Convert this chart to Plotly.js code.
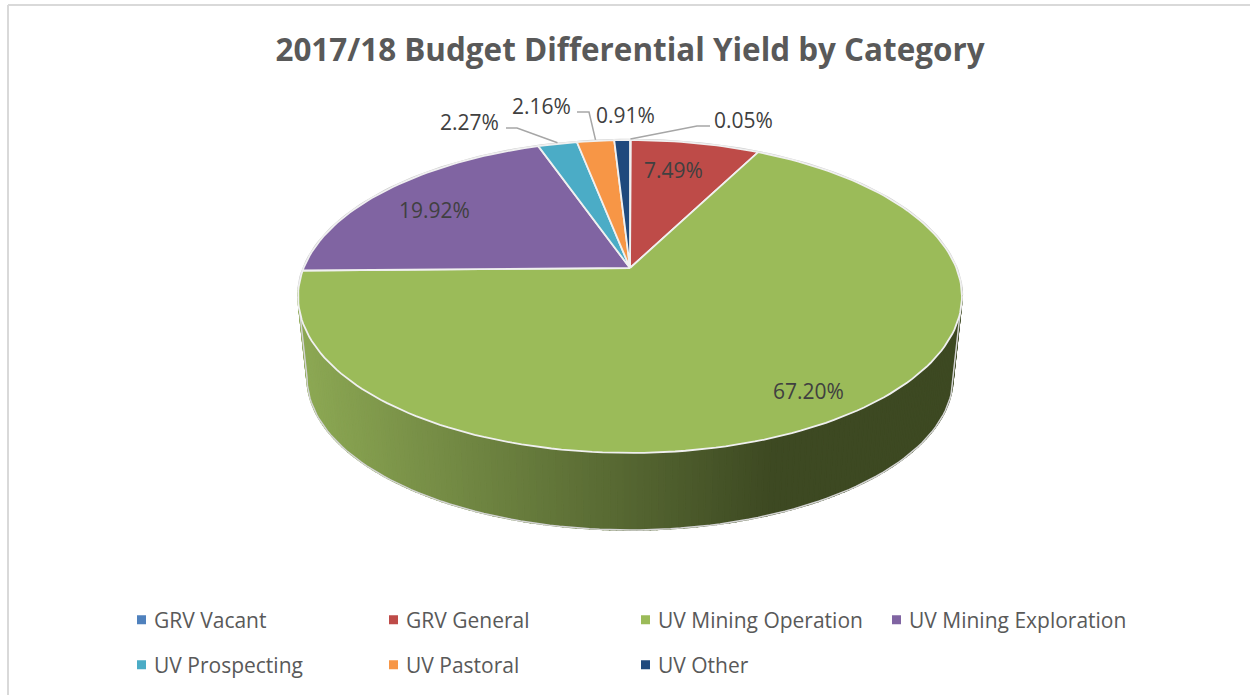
<!DOCTYPE html>
<html><head><meta charset="utf-8">
<script src="https://cdn.plot.ly/plotly-3.0.1.min.js"></script>
<style>html,body{margin:0;padding:0;background:#fff}#c{width:1250px;height:695px}</style>
</head><body><div id="c"></div>
<script>
// ---- data ----
const categories = ['GRV Vacant','GRV General','UV Mining Operation','UV Mining Exploration','UV Prospecting','UV Pastoral','UV Other'];
const shares = [0.05, 7.49, 67.20, 19.92, 2.27, 2.16, 0.91];
const sliceColors = ['#4F81BD','#BE4B48','#9BBB59','#8064A2','#4BACC6','#F79646','#1F497D'];
const legendSlots = ['legend','legend','legend','legend3','legend2','legend2','legend2'];

// ---- projection of the tilted disc ----
const FONT = '"Open Sans", sans-serif';
const TOP = {cx:630, cy:268, a:326.4, b:151.3, p:0.182};
const BOT = {cx:630, cy:350, a:317.6, b:147.2, p:0.182};
function proj(d, deg){
  const t = deg*Math.PI/180, k = 1 + d.p*Math.cos(t);
  return [d.cx + d.a*Math.sin(t)/k, d.cy - d.b*Math.cos(t)/k];
}
const traces = [];
const mix = (x) => {
  const f = Math.min(1, Math.max(0, (x-300)/470));
  const c0 = [141,169,84], c1 = [61,73,34];
  return 'rgb(' + c0.map((v,i)=>Math.round(v+(c1[i]-v)*f)).join(',') + ')';
};
// side wall, shaded strip by strip
const wallStart = 97, wallEnd = 263, wallStep = 1;
for (let d = wallStart; d < wallEnd; d += wallStep){
  const p = [proj(TOP,d), proj(TOP,d+wallStep), proj(BOT,d+wallStep), proj(BOT,d)];
  const col = mix((p[0][0]+p[1][0]+p[2][0]+p[3][0])/4);
  traces.push({type:'scatter', mode:'lines', x:[...p.map(q=>q[0]),p[0][0]], y:[...p.map(q=>q[1]),p[0][1]],
    fill:'toself', fillcolor:col, line:{color:col,width:1.5}, showlegend:false, hoverinfo:'skip'});
}
// wall outline
const outline = {x:[],y:[]};
for (let d = 100.5; d <= 259.5; d += 1.5){ const q = proj(BOT,d); outline.x.push(q[0]); outline.y.push(q[1]); }
const r0 = proj(TOP,100.5), l0 = proj(TOP,259.5);
traces.push({type:'scatter', mode:'lines', x:[r0[0],...outline.x,l0[0]], y:[r0[1],...outline.y,l0[1]],
  line:{color:'#d4d4d4',width:1.5}, showlegend:false, hoverinfo:'skip'});
// soft grey halo on the back rim
const halo = {x:[],y:[]};
for (let d = 262; d <= 460; d += 1.5){ const q = proj(TOP,d); halo.x.push(q[0]); halo.y.push(q[1]); }
traces.push({type:'scatter', mode:'lines', x:halo.x, y:halo.y, line:{color:'#cfcfcf',width:2.6}, showlegend:false, hoverinfo:'skip'});
// top face slices
let cum = 0; const mids = [];
shares.forEach((v,i)=>{
  const a0 = cum*3.6, a1 = (cum+v)*3.6; cum += v; mids.push((a0+a1)/2);
  const xs=[TOP.cx], ys=[TOP.cy];
  const n = Math.max(2, Math.ceil((a1-a0)/1.5));
  for (let j=0;j<=n;j++){ const q = proj(TOP, a0+(a1-a0)*j/n); xs.push(q[0]); ys.push(q[1]); }
  xs.push(TOP.cx); ys.push(TOP.cy);
  traces.push({type:'scatter', mode:'lines', x:xs, y:ys, fill:'toself', fillcolor:sliceColors[i],
    line:{color:'#f0f0f0',width:1.8}, name:categories[i], showlegend:false,
    hovertemplate:categories[i]+': '+v.toFixed(2)+'%<extra></extra>'});
});
// leader lines: label side elbow -> rim of the slice
const leaderElbows = {0:[[710,126],[697,126]], 4:[[506,128],[517,128]], 5:[[577,112],[589,112]]};
Object.keys(leaderElbows).forEach(i=>{
  const rim = proj(TOP, mids[i]);
  const pts = [...leaderElbows[i], [rim[0], rim[1]-1]];
  traces.push({type:'scatter', mode:'lines', x:pts.map(q=>q[0]), y:pts.map(q=>q[1]),
    line:{color:'#a6a6a6',width:1.5}, showlegend:false, hoverinfo:'skip'});
});
// legend entries
categories.forEach((n,i)=>{
  traces.push({type:'scatter', mode:'markers', x:[null], y:[null], name:n,
    marker:{symbol:'square', size:9, color:sliceColors[i]},
    legend: legendSlots[i], showlegend:true, hoverinfo:'skip'});
});
// data labels
const labelPos = [[743,120],[673,170],[808,391],[434,210],[469,122],[541,106],[625,115]];
const annotations = shares.map((v,i)=>({x:labelPos[i][0], y:labelPos[i][1], xref:'x', yref:'y', showarrow:false,
  xanchor:'center', yanchor:'middle', text:v.toFixed(2)+'%', font:{family:FONT,size:21,color:'#404040'}}));

const legendBase = {orientation:'h', xanchor:'left', yanchor:'middle', xref:'paper', yref:'paper',
  entrywidth:207, entrywidthmode:'pixels', bgcolor:'rgba(0,0,0,0)', traceorder:'normal',
  font:{family:FONT,size:21,color:'#595959'}};
const layout = {
  width:1250, height:695, margin:{l:0,r:0,t:0,b:0}, paper_bgcolor:'#fff', plot_bgcolor:'#fff',
  title:{text:'<b>2017/18 Budget Differential Yield by Category</b>', x:630/1250, xanchor:'center', y:1-50/695, yanchor:'middle',
    font:{family:FONT,size:31.4,color:'#595959'}},
  xaxis:{range:[0,1250], visible:false, fixedrange:true},
  yaxis:{range:[695,0], visible:false, fixedrange:true},
  legend:Object.assign({}, legendBase, {x:114/1250, y:1-620/695}),
  legend2:Object.assign({}, legendBase, {x:114/1250, y:1-665/695}),
  legend3:Object.assign({}, legendBase, {x:869/1250, y:1-620/695, entrywidth:240}),
  annotations,
  shapes:[
    {type:'line', xref:'x', yref:'y', x0:8, x1:8, y0:5, y1:695, line:{color:'#d9d9d9',width:2}},
    {type:'line', xref:'x', yref:'y', x0:8, x1:1250, y0:5, y1:5, line:{color:'#d9d9d9',width:2}}
  ],
  showlegend:true, hovermode:'closest'
};
Plotly.newPlot('c', traces, layout, {displayModeBar:false, responsive:false}).then(()=>{
  // the reference sets each legend swatch closer to its text
  document.querySelectorAll('#c .legendsymbols').forEach(g=>g.setAttribute('transform','translate(7.5,0)'));
});
</script></body></html>
